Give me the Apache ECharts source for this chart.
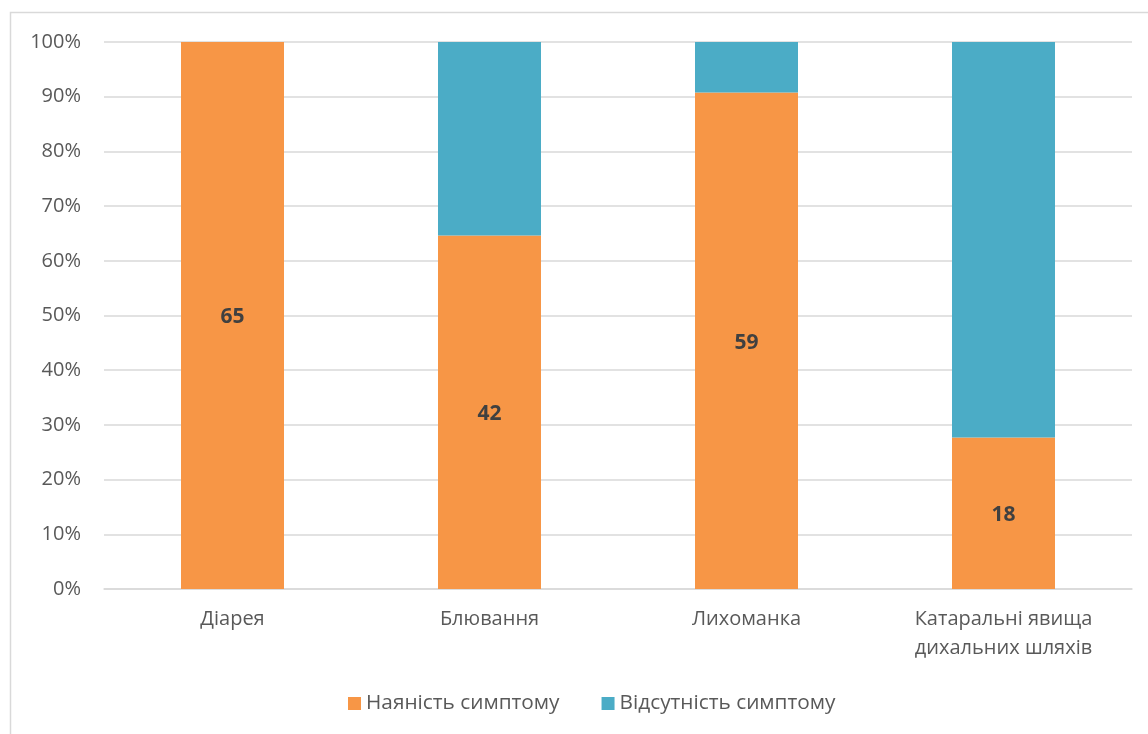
<!DOCTYPE html>
<html>
<head>
<meta charset="utf-8">
<script src="https://cdn.jsdelivr.net/npm/echarts@6/dist/echarts.min.js"></script>
<style>
  html, body { margin: 0; padding: 0; background: #ffffff; }
  #chart { width: 1148px; height: 734px; }
</style>
</head>
<body>
<div id="chart"></div>
<script>
// Symptom categories
const categories = ['Діарея', 'Блювання', 'Лихоманка', 'Катаральні явища\nдихальних шляхів'];
// Number of patients with the symptom
const present = [65, 42, 59, 18];
// Number of patients without the symptom
const absent = [0, 23, 6, 47];
const seriesNames = ['Наяність симптому', 'Відсутність симптому'];
const yTicks = [0, 10, 20, 30, 40, 50, 60, 70, 80, 90, 100];

const FONT = '"Open Sans", "Noto Sans", sans-serif';
const totals = present.map((v, i) => v + absent[i]);
const pct = (arr) => arr.map((v, i) => (totals[i] ? v / totals[i] * 100 : 0));

const chart = echarts.init(document.getElementById('chart'), null, { renderer: 'canvas' });
chart.setOption({
  backgroundColor: '#ffffff',
  animation: false,
  textStyle: { fontFamily: FONT },
  graphic: [{
    type: 'rect',
    shape: { x: 10.5, y: 12.5, width: 1400, height: 1000 },
    style: { fill: 'none', stroke: '#d9d9d9', lineWidth: 1.5 },
    silent: true,
    z: -1
  }],
  grid: { left: 104, right: 16, top: 42, bottom: 145 },
  legend: {
    bottom: 15,
    left: 343,
    itemWidth: 13,
    itemHeight: 13,
    itemGap: 42,
    icon: 'rect',
    textStyle: { fontFamily: FONT, fontSize: 20.8, color: '#595959' },
    data: seriesNames
  },
  xAxis: {
    type: 'category',
    data: categories,
    axisLine: { show: true, lineStyle: { color: '#d9d9d9', width: 1.5 } },
    axisTick: { show: false },
    axisLabel: { fontFamily: FONT, fontSize: 20, color: '#595959', margin: 16, lineHeight: 29 }
  },
  yAxis: {
    type: 'value',
    min: 0,
    max: 100,
    interval: 10,
    axisLine: { show: false },
    axisTick: { show: false },
    splitLine: { lineStyle: { color: '#d9d9d9', width: 1.5 } },
    axisLabel: {
      fontFamily: FONT, fontSize: 20, color: '#595959', margin: 23,
      formatter: (v) => (yTicks.includes(v) ? v + '%' : '')
    }
  },
  series: [
    {
      name: seriesNames[0],
      type: 'bar',
      stack: 'total',
      barWidth: 103,
      data: pct(present),
      itemStyle: { color: '#F79646' },
      label: {
        show: true,
        position: 'inside',
        offset: [0, 2],
        fontFamily: FONT,
        fontSize: 21,
        fontWeight: 'bold',
        color: '#404040',
        formatter: (p) => present[p.dataIndex]
      }
    },
    {
      name: seriesNames[1],
      type: 'bar',
      stack: 'total',
      barWidth: 103,
      data: pct(absent),
      itemStyle: { color: '#4BACC6' }
    }
  ]
});
</script>
</body>
</html>
